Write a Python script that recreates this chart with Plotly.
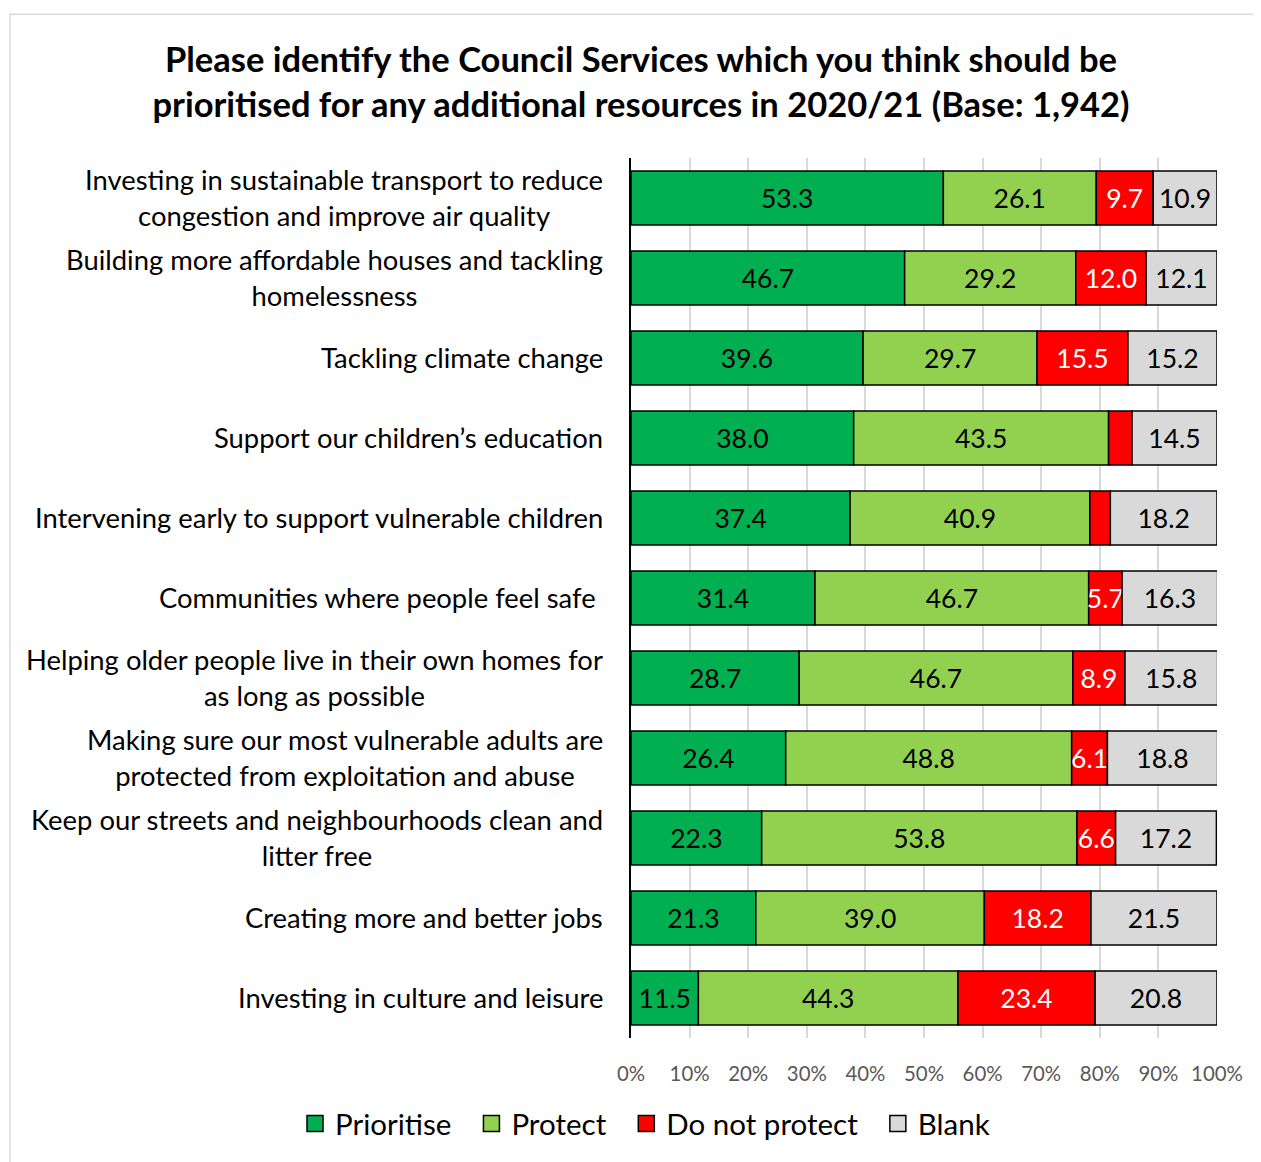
import plotly.graph_objects as go

categories = [
    "Investing in sustainable transport to reduce<br>congestion and improve air quality",
    "Building more affordable houses and tackling<br>homelessness",
    "Tackling climate change",
    "Support our children’s education",
    "Intervening early to support vulnerable children",
    "Communities where people feel safe ",
    "Helping older people live in their own homes for<br>as long as possible",
    "Making sure our most vulnerable adults are<br>protected from exploitation and abuse",
    "Keep our streets and neighbourhoods clean and<br>litter free",
    "Creating more and better jobs",
    "Investing in culture and leisure",
]
prioritise = [53.3, 46.7, 39.6, 38.0, 37.4, 31.4, 28.7, 26.4, 22.3, 21.3, 11.5]
protect = [26.1, 29.2, 29.7, 43.5, 40.9, 46.7, 46.7, 48.8, 53.8, 39.0, 44.3]
do_not_protect = [9.7, 12.0, 15.5, 4.0, 3.5, 5.7, 8.9, 6.1, 6.6, 18.2, 23.4]
blank = [10.9, 12.1, 15.2, 14.5, 18.2, 16.3, 15.8, 18.8, 17.2, 21.5, 20.8]
x_ticks = [0, 10, 20, 30, 40, 50, 60, 70, 80, 90, 100]
x_tick_labels = ["0%", "10%", "20%", "30%", "40%", "50%", "60%", "70%", "80%", "90%", "100%"]

series = [
    ("Prioritise", prioritise, "#00B050", "black", True),
    ("Protect", protect, "#92D050", "black", True),
    ("Do not protect", do_not_protect, "#FF0000", "white", False),
    ("Blank", blank, "#D9D9D9", "black", True),
]

FONT = "Lato"
OFF = 8  # browser default body margin
W, H = 1261 - OFF, 1162 - OFF
ids = list(range(len(categories)))

# plot area in page pixels: x 631..1217, y 158..1040
L, R, T, B = 631 - OFF, 1261 - 1217, 158 - OFF, 1162 - 1040
PW, PH = 1217 - 631, 1040 - 158

fig = go.Figure()
base = [0.0] * len(categories)
for name, vals, color, tcolor, show_small in series:
    texts = [("" if (not show_small and v < 5) else f"{v:.1f}") for v in vals]
    fig.add_trace(go.Bar(
        name=name, y=ids, x=vals, base=list(base), orientation="h",
        marker=dict(color=color, line=dict(color="black", width=1.5)),
        text=texts, textposition="inside", insidetextanchor="middle",
        textangle=0, constraintext="none",
        insidetextfont=dict(family=FONT, size=26.5, color=tcolor),
        hoverinfo="skip", showlegend=False,
    ))
    base = [b + v for b, v in zip(base, vals)]

# legend entries (square swatches)
n_series = len(series)
for k, (name, vals, color, tcolor, show_small) in enumerate(series):
    pad = "\u00a0\u00a0" if k < n_series - 1 else ""
    fig.add_trace(go.Scatter(
        x=[None], y=[None], mode="markers", name=name + pad,
        marker=dict(symbol="square", size=16, color=color, line=dict(color="black", width=1.5)),
        showlegend=True, hoverinfo="skip",
    ))

annotations = []
for i, c in enumerate(categories):
    annotations.append(dict(
        x=0, y=i, xref="paper", yref="y", text=c, showarrow=False,
        xanchor="right", yanchor="middle", align="center", xshift=-26, yshift=1,
        font=dict(family=FONT, size=27.4, color="black"),
    ))

fig.update_layout(
    width=W, height=H,
    margin=dict(l=L, r=R, t=T, b=B),
    paper_bgcolor="white", plot_bgcolor="white",
    barmode="overlay", bargap=0.327,
    title=dict(
        text="Please identify the Council Services which you think should be<br>prioritised for any additional resources in 2020/21 (Base: 1,942)",
        x=(641 - OFF) / W, xanchor="center", xref="container",
        y=1 - (72 - OFF) / H, yanchor="middle", yref="container",
        font=dict(family=FONT, size=34.5, color="black", weight="bold"),
    ),
    xaxis=dict(
        range=[0, 100], tickvals=x_ticks, ticktext=x_tick_labels,
        showgrid=True, gridcolor="#D9D9D9", gridwidth=1.5,
        zeroline=False, showline=False, ticks="",
        tickfont=dict(family=FONT, size=20.4, color="#595959"),
        ticklabelstandoff=22,
    ),
    yaxis=dict(
        tickvals=ids, showticklabels=False, autorange=False,
        range=[len(categories) - 0.5, -0.5],
        showgrid=False, zeroline=False, showline=True, linecolor="black", linewidth=1.5,
        ticks="",
    ),
    legend=dict(
        orientation="h", x=(295 - 631) / PW, xanchor="left", xref="paper",
        y=-86 / PH, yanchor="middle", yref="paper",
        font=dict(family=FONT, size=29.5, color="black"), traceorder="normal",
        itemclick=False, itemwidth=30,
    ),
    annotations=annotations,
    shapes=[dict(
        type="rect", xref="paper", yref="paper",
        x0=(10 - 631) / PW, x1=(1275 - 631) / PW,
        y0=(1040 - 1180) / PH, y1=(1040 - 14) / PH,
        line=dict(color="#D9D9D9", width=1.5), fillcolor="rgba(0,0,0,0)", layer="below",
    )],
)

fig.write_html("out.html")
